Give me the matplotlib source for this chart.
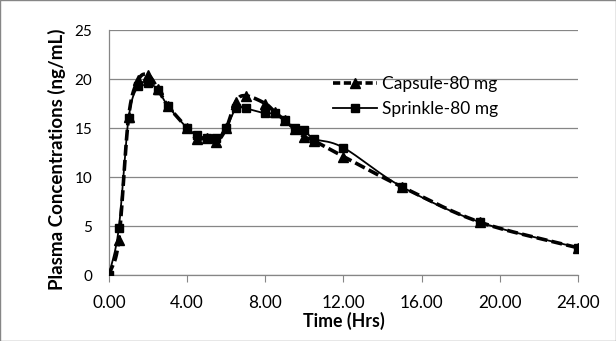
import numpy as np
import matplotlib
matplotlib.use("Agg")
import matplotlib.pyplot as plt
from matplotlib.lines import Line2D

time_hrs = [0, 0.5, 1, 1.5, 2, 2.5, 3, 4, 4.5, 5, 5.5, 6, 6.5, 7, 8, 8.5, 9, 9.5, 10, 10.5, 12, 15, 19, 24]
capsule = [0, 3.6, 16.1, 19.9, 20.4, 19.0, 17.3, 15.0, 13.9, 14.0, 13.6, 15.0, 17.7, 18.3, 17.5, 16.6, 15.8, 14.9, 14.1, 13.7, 12.1, 9.0, 5.4, 2.8]
sprinkle = [0, 4.8, 16.0, 19.3, 19.6, 18.9, 17.3, 15.0, 14.3, 14.0, 14.0, 15.0, 17.0, 17.0, 16.5, 16.5, 15.8, 15.0, 14.8, 13.9, 13.0, 9.0, 5.4, 2.8]
x_ticks = [0, 4, 8, 12, 16, 20, 24]
y_ticks = [0, 5, 10, 15, 20, 25]

plt.rcParams['font.family'] = ['Lato', 'DejaVu Sans']


def smooth(x, y, n=20):
    # Catmull-Rom style smoothing of the path (like Excel smoothed lines)
    x = np.asarray(x, float)
    y = np.asarray(y, float)
    P = np.column_stack([x, y])
    P = np.vstack([P[0] - (P[1] - P[0]), P, P[-1] + (P[-1] - P[-2])])
    out = []
    for i in range(1, len(P) - 2):
        p0, p1, p2, p3 = P[i - 1], P[i], P[i + 1], P[i + 2]
        t = np.linspace(0, 1, n, endpoint=False)[:, None]
        c = 0.5 * ((2 * p1) + (-p0 + p2) * t + (2 * p0 - 5 * p1 + 4 * p2 - p3) * t ** 2
                   + (-p0 + 3 * p1 - 3 * p2 + p3) * t ** 3)
        out.append(c)
    out.append(P[-2][None, :])
    c = np.vstack(out)
    return c[:, 0], c[:, 1]


fig = plt.figure(figsize=(6.16, 3.41), dpi=100)
ax = fig.add_axes([0.177, 0.193, 0.761, 0.719])

sx, sy = smooth(time_hrs, sprinkle)
cx, cy = smooth(time_hrs, capsule)
ax.plot(sx, sy, color='black', lw=1.3, zorder=3)
ax.plot(time_hrs, sprinkle, ls='none', marker='s', ms=6, color='black', zorder=4)
ax.plot(cx, cy, color='black', lw=2.6, ls=(0, (3, 1.2)), zorder=3)
ax.plot(time_hrs, capsule, ls='none', marker='^', ms=7.5, color='black', zorder=4)

# legend proxies
h1 = Line2D([], [], color='black', lw=2.6, ls=(0, (2, 1)), marker='^', ms=7.5)
h2 = Line2D([], [], color='black', lw=1.3, marker='s', ms=6)
leg = ax.legend([h1, h2], ['Capsule-80 mg', 'Sprinkle-80 mg'], loc='upper left',
                bbox_to_anchor=(0.478, 0.812), frameon=False, fontsize=12.5,
                handlelength=2.5, handletextpad=0.3, labelspacing=0.52,
                borderaxespad=0, borderpad=0)

ax.set_xlim(0, 24)
ax.set_ylim(0, 25)
ax.set_xticks(x_ticks)
ax.set_xticklabels([f"{v:.2f}" for v in x_ticks])
ax.set_yticks(y_ticks)
ax.tick_params(axis='x', direction='out', length=5, color='#868686', labelsize=12.3, pad=9)
ax.tick_params(axis='y', length=0, labelsize=11, pad=12)
ax.grid(axis='y', color='#868686', lw=0.9)
ax.set_axisbelow(True)
for s in ['top', 'right']:
    ax.spines[s].set_visible(False)
for s in ['left', 'bottom']:
    ax.spines[s].set_color('#868686')
    ax.spines[s].set_linewidth(0.9)

ax.set_xlabel('Time (Hrs)', fontsize=12.8, fontweight='bold')
ax.set_ylabel('Plasma Concentrations (ng/mL)', fontsize=13.5, fontweight='bold')
ax.xaxis.set_label_coords(0.5, -0.151)
ax.yaxis.set_label_coords(-0.092, 0.473)

fig.patches.append(plt.Rectangle((0, 0), 1, 1, transform=fig.transFigure, fill=False,
                                 edgecolor='#868686', lw=1))
fig.savefig('out.png', dpi=100)
